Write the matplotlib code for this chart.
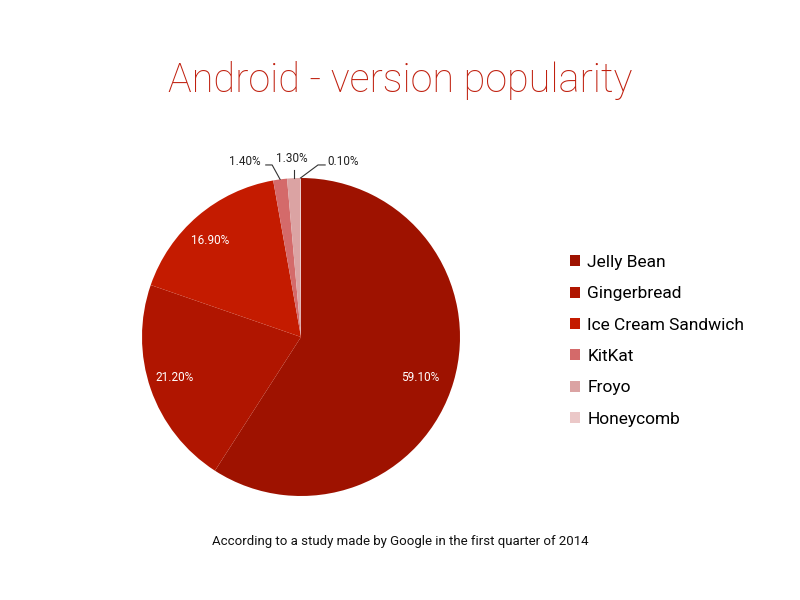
import matplotlib
matplotlib.use("Agg")
import matplotlib.pyplot as plt
from matplotlib.patches import Patch
import numpy as np

plt.rcParams['font.family'] = ['Roboto', 'DejaVu Sans']

versions = ['Jelly Bean', 'Gingerbread', 'Ice Cream Sandwich', 'KitKat', 'Froyo', 'Honeycomb']
share = [59.1, 21.2, 16.9, 1.4, 1.3, 0.1]
colors = ['#9e1200', '#b01500', '#c41b00', '#d46a6a', '#dba3a3', '#ebc8c8']

fig = plt.figure(figsize=(8, 6), dpi=100)
fig.patch.set_facecolor('white')

# pie area: centre ~ (301, 337) px, radius ~159 px
ax = fig.add_axes([142 / 800, 104 / 600, 318 / 800, 318 / 600])
wedges, _ = ax.pie(share, colors=colors, startangle=90, counterclock=False,
                   radius=1, wedgeprops=dict(linewidth=0))
ax.set_xlim(-1, 1)
ax.set_ylim(-1, 1)
ax.set_aspect('equal')
ax.axis('off')

# labels inside the big slices (small nudges in data units)
inner_nudge = [(-0.02, -0.03), (0.0, 0.02), (-0.025, -0.03)]
big = [(w, v) for w, v in zip(wedges, share) if v > 5]
for (w, v), (nx, ny) in zip(big, inner_nudge):
    mid = np.deg2rad((w.theta1 + w.theta2) / 2)
    r = 0.8 if v > 50 else 0.84
    ax.text(r * np.cos(mid) + nx, r * np.sin(mid) + ny, '%.2f%%' % v,
            color='white', fontsize=8.5, ha='center', va='center')

# outside labels with leader lines for the small ones
small = [(w, v) for w, v in zip(wedges, share) if v <= 5]
# (elbow dx, elbow y, end dx, text x, ha) per small slice
leaders = [(-0.05, 1.082, -0.09, -0.255, 'right'),
           (0.0, 1.05, 0.0, -0.057, 'center'),
           (0.11, 1.082, 0.155, 0.165, 'left')]
for (w, v), (edx, ey, tdx, tx, ha) in zip(small, leaders):
    mid = np.deg2rad((w.theta1 + w.theta2) / 2)
    x0, y0 = np.cos(mid), np.sin(mid)
    ex = x0 + edx
    ax.plot([x0, ex, ex + (tdx - edx)], [y0, ey, ey], color='#333333',
            lw=0.8, clip_on=False)
    ty = 1.12 if ha == 'center' else ey + 0.02
    ax.text(tx, ty, '%.2f%%' % v, fontsize=8.5, color='#222222',
            ha=ha, va='center')

fig.text(0.5, 0.866, 'Android - version popularity', ha='center', va='center',
         fontsize=28.5, color='#c0200f', fontweight='light')

fig.text(0.5, 1 - 541 / 600, 'According to a study made by Google in the first quarter of 2014',
         ha='center', va='center', fontsize=9.5, color='#111111')

handles = [Patch(facecolor=c, edgecolor='none') for c in colors]
fig.legend(handles, versions, loc='upper left', bbox_to_anchor=(563 / 800, 1 - 248 / 600),
           frameon=False, fontsize=12.5, handlelength=0.6, handleheight=0.6,
           handletextpad=0.4, labelspacing=0.94, borderaxespad=0)

fig.savefig('out.png', dpi=100)
